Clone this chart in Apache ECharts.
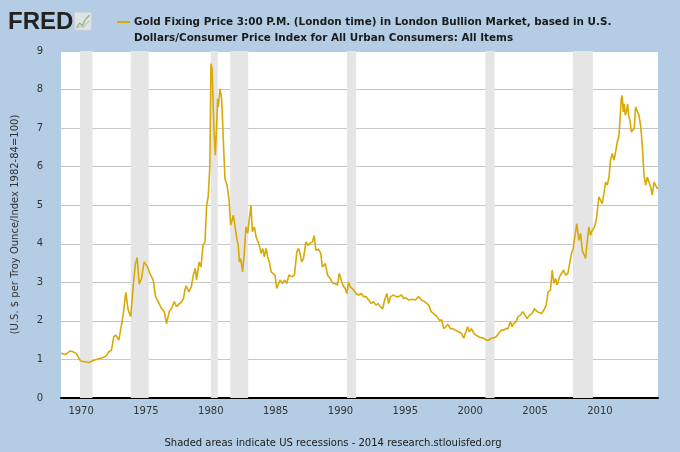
<!DOCTYPE html>
<html>
<head>
<meta charset="utf-8">
<script src="https://cdn.jsdelivr.net/npm/echarts@6/dist/echarts.min.js"></script>
<style>html,body{margin:0;padding:0;background:#b4cde4;}#c{width:680px;height:452px;}</style>
</head>
<body>
<div id="c"></div>
<script>
const seriesName = 'Gold Fixing Price 3:00 P.M. (London time) in London Bullion Market, based in U.S.\nDollars/Consumer Price Index for All Urban Consumers: All Items';
const years = [
1968.45,1968.74,1968.95,1969.12,1969.38,1969.64,1969.77,1969.95,1970.28,1970.59,1970.93,1971.31,1971.70,1971.96,1972.14,1972.34,1972.52,1972.68,1972.91,1973.06,1973.24,1973.45,1973.63,1973.83,1974.02,1974.19,1974.32,1974.48,1974.66,1974.86,1974.99,1975.12,1975.30,1975.56,1975.74,1975.94,1976.20,1976.41,1976.59,1976.79,1976.97,1977.18,1977.36,
1977.49,1977.75,1977.90,1978.00,1978.10,1978.30,1978.50,1978.65,1978.80,1978.90,1979.10,1979.24,1979.40,1979.55,1979.68,1979.80,1979.93,1980.01,1980.10,1980.24,1980.35,1980.45,1980.53,1980.58,1980.71,1980.84,1980.96,1981.09,1981.25,1981.40,1981.53,1981.60,1981.74,1981.87,1982.00,1982.12,1982.20,1982.30,1982.45,1982.59,1982.71,1982.84,1982.97,1983.10,1983.20,1983.36,1983.49,1983.60,1983.74,1983.87,1984.00,1984.13,1984.26,1984.39,1984.52,1984.65,1984.77,1984.95,1985.08,1985.20,1985.34,1985.52,1985.67,1985.85,1986.03,1986.24,1986.45,1986.63,
1986.76,1986.88,1987.00,1987.15,1987.33,1987.48,1987.66,1987.84,1987.97,1988.10,1988.30,1988.48,1988.60,1988.82,1989.00,1989.20,1989.41,1989.59,1989.77,1989.90,1990.05,1990.18,1990.36,1990.49,1990.62,1990.75,1990.88,1991.03,1991.19,1991.40,1991.60,1991.78,1991.96,1992.17,1992.37,1992.55,1992.73,1992.89,1993.07,1993.25,1993.40,1993.58,1993.71,1993.86,1994.10,1994.28,1994.48,1994.69,1994.87,1995.05,1995.25,1995.51,1995.77,
1996.02,1996.23,1996.50,1996.80,1997.00,1997.18,1997.44,1997.62,1997.82,1997.95,1998.13,1998.28,1998.47,1998.65,1998.85,1999.11,1999.32,1999.50,1999.62,1999.80,1999.93,2000.09,2000.27,2000.45,2000.65,2000.86,2001.04,2001.22,2001.43,2001.63,2001.81,2002.00,2002.20,2002.40,2002.58,2002.76,2002.92,2003.10,2003.23,2003.36,2003.54,2003.69,2003.87,2004.05,2004.20,2004.39,2004.57,2004.77,2004.95,2005.16,
2005.29,2005.50,2005.68,2005.86,2006.01,2006.19,2006.32,2006.45,2006.58,2006.70,2006.89,2007.04,2007.20,2007.35,2007.53,2007.68,2007.81,2007.94,2008.07,2008.22,2008.38,2008.51,2008.64,2008.76,2008.89,2009.02,2009.15,2009.28,2009.41,2009.59,2009.74,2009.92,2010.05,2010.18,2010.31,2010.44,2010.57,2010.70,2010.82,2010.95,2011.08,2011.21,2011.34,2011.47,2011.54,2011.65,2011.72,2011.80,2011.88,2011.96,2012.06,2012.14,2012.21,2012.32,2012.42,2012.55,2012.65,2012.75,2012.88,2013.01,2013.14,2013.27,2013.40,2013.53,2013.66,2013.78,2013.91,2014.04,2014.17,2014.30,2014.43,2014.48
];
const values = [
1.16,1.13,1.16,1.22,1.20,1.15,1.10,0.96,0.94,0.92,0.97,1.01,1.05,1.10,1.20,1.24,1.59,1.63,1.50,1.55,2.15,2.74,2.28,2.11,2.93,3.49,3.64,2.95,3.10,3.53,3.55,3.40,3.23,3.06,2.63,2.50,2.32,2.24,1.93,2.24,2.32,2.50,2.37,
2.32,2.50,2.58,2.80,2.91,2.75,2.88,3.19,3.36,3.06,3.53,3.40,3.96,4.05,5.00,5.22,6.03,8.67,8.54,6.99,6.30,7.07,7.76,7.55,8.02,7.76,6.73,5.69,5.52,5.17,4.48,4.44,4.74,4.44,4.14,3.96,3.53,3.62,3.27,3.79,4.44,4.27,4.65,5.00,4.31,4.44,4.18,4.22,3.96,3.75,3.88,3.66,3.88,3.66,3.53,3.27,3.23,3.19,2.84,2.88,3.06,2.97,3.06,2.97,3.19,3.14,3.19,3.79,
3.88,3.75,3.53,3.62,4.05,3.96,4.01,4.05,4.21,3.83,3.86,3.75,3.40,3.49,3.19,3.10,2.97,2.97,2.93,3.23,3.27,2.93,2.84,2.71,3.01,2.88,2.86,2.80,2.71,2.67,2.71,2.63,2.63,2.54,2.45,2.50,2.41,2.45,2.37,2.31,2.54,2.71,2.45,2.63,2.67,2.63,2.63,2.67,2.58,2.60,2.54,2.56,2.54,
2.63,2.54,2.50,2.41,2.24,2.19,2.11,2.02,2.02,1.80,1.85,1.91,1.80,1.80,1.76,1.72,1.68,1.55,1.55,1.85,1.72,1.80,1.68,1.63,1.59,1.56,1.55,1.50,1.50,1.55,1.56,1.59,1.68,1.76,1.76,1.80,1.80,1.98,1.85,1.93,1.98,2.11,2.15,2.24,2.19,2.06,2.15,2.19,2.32,2.24,
2.24,2.19,2.28,2.41,2.75,2.80,3.32,2.97,3.10,2.93,3.14,3.14,3.32,3.19,3.23,3.19,3.75,3.88,4.18,4.52,4.09,4.27,3.83,3.79,3.62,4.05,4.44,4.22,4.35,4.44,4.65,5.22,5.26,5.04,5.30,5.60,5.52,5.73,6.17,6.34,6.17,6.38,6.64,6.81,7.16,7.76,7.85,7.42,7.63,7.33,7.46,7.63,7.33,7.20,6.90,6.94,6.99,7.55,7.50,7.33,7.07,6.55,5.78,5.52,5.73,5.73,5.47,5.26,5.60,5.65,5.43,5.47
];
const recessionStarts = [1969.92,1973.83,1980.0,1981.5,1990.5,2001.17,2007.92];
const recessionEnds   = [1970.88,1975.21,1980.54,1982.88,1991.21,2001.88,2009.46];
const xTickYears = [1970,1975,1980,1985,1990,1995,2000,2005,2010];
const yAxisName = '(U.S. $ per Troy Ounce/Index 1982-84=100)';
const footer = 'Shaded areas indicate US recessions - 2014 research.stlouisfed.org';

const FONT = 'DejaVu Sans';
const data = years.map((y,i)=>[y, values[i]]);
const areas = recessionStarts.map((s,i)=>[{xAxis:s},{xAxis:recessionEnds[i]}]);

const chart = echarts.init(document.getElementById('c'), null, {renderer:'canvas'});
chart.setOption({
  backgroundColor:'#b4cde4',
  animation:false,
  textStyle:{fontFamily:FONT},
  title:{
    text: seriesName, left:134, top:14, padding:0,
    textStyle:{fontSize:10.4, fontWeight:'bold', color:'#1a1a1a', fontFamily:FONT, lineHeight:16}
  },
  legend:{
    left:117, top:21, padding:0, icon:'rect', itemWidth:13, itemHeight:2,
    formatter:()=>'', selectedMode:false,
    data:[seriesName]
  },
  graphic:[
    {type:'text', left:8, top:10, style:{text:'FRED', font:'bold 24px "Liberation Sans"', fill:'#222'}},
    {type:'group', left:74, top:12, children:[
      {type:'rect', shape:{x:0,y:0,width:17,height:18,r:1}, style:{fill:'#dfe3e3', stroke:'#c8cccc', lineWidth:0.5}},
      {type:'polyline', shape:{points:[[2,15],[5,11],[8,13],[11,7],[15,3]]}, style:{stroke:'#8fb36b', lineWidth:1.2, fill:null}},
      {type:'polyline', shape:{points:[[2,16],[6,14],[9,15],[12,11],[15,9]]}, style:{stroke:'#9fb7c9', lineWidth:1, fill:null}}
    ]},
    {type:'text', x:333, y:443, style:{text:footer, font:'10px "DejaVu Sans"', fill:'#1a1a1a', align:'center', verticalAlign:'middle'}}
  ],
  grid:{left:61, right:22, top:51, bottom:54, show:true, backgroundColor:'#ffffff', borderWidth:0, containLabel:false},
  xAxis:{
    type:'value', min:1968.45, max:2014.48,
    axisLine:{show:true, onZero:false, lineStyle:{color:'#000', width:2}},
    axisTick:{show:false},
    splitLine:{show:false},
    axisLabel:{customValues:xTickYears, formatter:v=>String(v), fontSize:10, color:'#333', margin:8, fontFamily:FONT}
  },
  yAxis:{
    type:'value', min:0, max:9, interval:1,
    name:yAxisName, nameLocation:'middle', nameRotate:90, nameGap:41,
    nameTextStyle:{fontSize:10, color:'#333', fontFamily:FONT},
    axisLine:{show:false}, axisTick:{show:false},
    splitLine:{show:true, lineStyle:{color:'#c6c6c6', width:1}},
    axisLabel:{fontSize:10, color:'#333', margin:18, fontFamily:FONT}
  },
  series:[{
    name:seriesName, type:'line', data:data, showSymbol:false, symbol:'none',
    lineStyle:{color:'#d9a906', width:1.6}, itemStyle:{color:'#d9a906'},
    markArea:{silent:true, itemStyle:{color:'#e5e5e5'}, data:areas}
  }]
});
</script>
</body>
</html>
